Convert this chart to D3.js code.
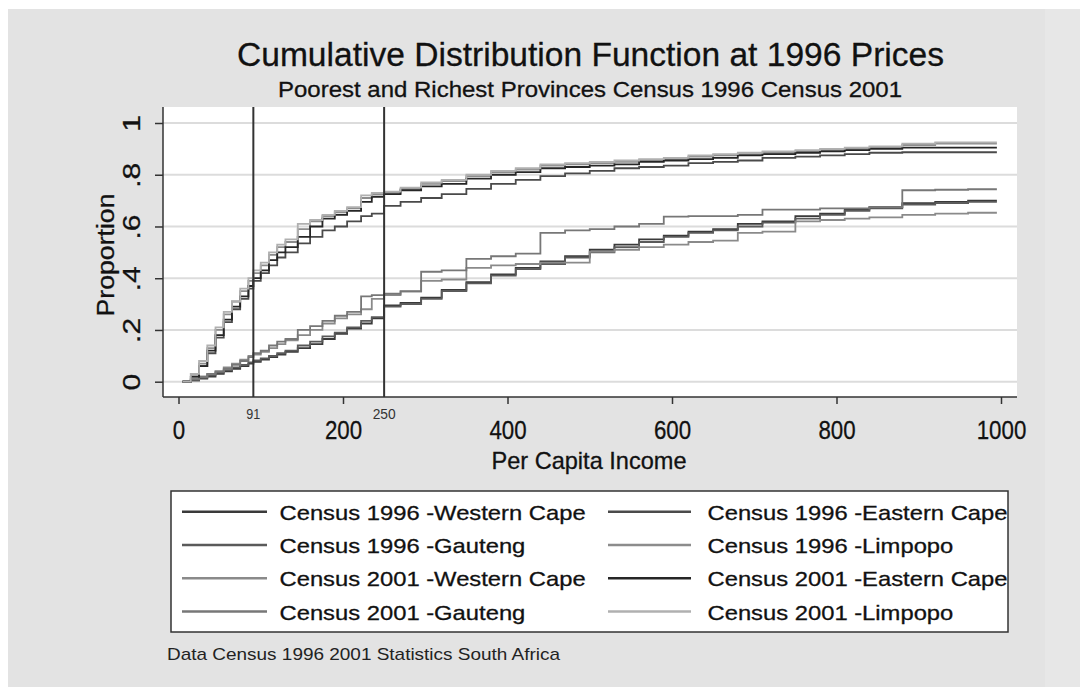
<!DOCTYPE html>
<html><head><meta charset="utf-8">
<script src="https://cdn.jsdelivr.net/npm/d3@7"></script>
<style>body{margin:0;background:#fff}svg{display:block}text{font-family:"Liberation Sans",Arial,sans-serif;fill:#111;stroke:#111;stroke-width:0.3px}</style>
</head><body>
<script>
const xTicks = [0, 200, 400, 600, 800, 1000];
const yTicks = [0, 0.2, 0.4, 0.6, 0.8, 1];
const refLines = [91, 250];
const incomes = [5,15,25,35,45,55,65,75,85,91,100,110,120,130,145,160,175,190,205,222,235,250,270,295,320,350,380,410,440,470,500,530,560,590,620,650,680,710,750,780,810,840,880,920,960,995];

const wc1996 = [0,0.005,0.012,0.02,0.03,0.04,0.05,0.06,0.07,0.077,0.085,0.095,0.105,0.115,0.13,0.145,0.165,0.185,0.205,0.225,0.245,0.295,0.305,0.325,0.355,0.385,0.415,0.44,0.465,0.485,0.51,0.53,0.55,0.565,0.58,0.59,0.61,0.62,0.64,0.65,0.665,0.675,0.69,0.695,0.70,0.70];
const ec1996 = [0,0.02,0.06,0.11,0.17,0.23,0.28,0.32,0.36,0.39,0.42,0.45,0.48,0.50,0.535,0.56,0.585,0.60,0.62,0.64,0.65,0.68,0.695,0.71,0.725,0.745,0.765,0.78,0.795,0.805,0.815,0.825,0.83,0.835,0.845,0.85,0.855,0.865,0.87,0.875,0.88,0.885,0.887,0.887,0.887,0.887];
const gt1996 = [0,0.005,0.015,0.025,0.035,0.045,0.055,0.065,0.075,0.082,0.09,0.10,0.11,0.12,0.14,0.155,0.175,0.19,0.21,0.235,0.25,0.29,0.30,0.32,0.35,0.38,0.41,0.435,0.455,0.48,0.50,0.52,0.54,0.56,0.575,0.585,0.60,0.615,0.63,0.645,0.66,0.67,0.685,0.69,0.695,0.695];
const lp1996 = [0,0.03,0.07,0.13,0.20,0.26,0.31,0.35,0.39,0.42,0.45,0.49,0.52,0.54,0.59,0.62,0.64,0.655,0.67,0.71,0.725,0.73,0.745,0.765,0.775,0.795,0.81,0.82,0.835,0.84,0.845,0.85,0.855,0.86,0.87,0.875,0.88,0.885,0.89,0.895,0.90,0.905,0.915,0.92,0.92,0.92];
const wc2001 = [0,0.01,0.02,0.03,0.04,0.055,0.07,0.085,0.10,0.105,0.115,0.13,0.145,0.16,0.18,0.20,0.225,0.245,0.26,0.28,0.32,0.335,0.348,0.39,0.395,0.44,0.45,0.455,0.46,0.46,0.503,0.51,0.52,0.53,0.54,0.545,0.575,0.58,0.62,0.625,0.63,0.635,0.645,0.65,0.653,0.653];
const ec2001 = [0,0.02,0.06,0.12,0.18,0.24,0.29,0.33,0.37,0.40,0.43,0.47,0.50,0.52,0.56,0.60,0.63,0.645,0.66,0.695,0.715,0.725,0.74,0.755,0.765,0.785,0.80,0.81,0.825,0.83,0.835,0.84,0.85,0.855,0.86,0.865,0.875,0.88,0.885,0.89,0.895,0.90,0.905,0.905,0.905,0.905];
const gt2001 = [0,0.01,0.02,0.03,0.04,0.05,0.065,0.08,0.095,0.11,0.12,0.14,0.155,0.165,0.20,0.215,0.235,0.255,0.27,0.33,0.335,0.34,0.35,0.425,0.43,0.475,0.485,0.495,0.575,0.585,0.59,0.60,0.61,0.638,0.64,0.64,0.645,0.665,0.665,0.67,0.67,0.675,0.74,0.742,0.744,0.744];
const lp2001 = [0,0.03,0.08,0.14,0.21,0.27,0.31,0.36,0.40,0.43,0.46,0.50,0.53,0.55,0.61,0.625,0.645,0.66,0.675,0.72,0.73,0.735,0.75,0.77,0.78,0.80,0.815,0.825,0.84,0.845,0.85,0.855,0.86,0.865,0.875,0.88,0.885,0.89,0.895,0.90,0.905,0.91,0.92,0.925,0.925,0.925];

const seriesNames = ["Census 1996 -Western Cape","Census 1996 -Eastern Cape","Census 1996 -Gauteng","Census 1996 -Limpopo","Census 2001 -Western Cape","Census 2001 -Eastern Cape","Census 2001 -Gauteng","Census 2001 -Limpopo"];
const seriesValues = [wc1996, ec1996, gt1996, lp1996, wc2001, ec2001, gt2001, lp2001];
const seriesColors = ["#3a3a3a","#4a4a4a","#5a5a5a","#8c8c8c","#8a8a8a","#262626","#777777","#b0b0b0"];
// legend order: column 1 then column 2
const legendOrder = [[0,2,4,6],[1,3,5,7]];

const W = 1080, H = 687;
const svg = d3.select("body").append("svg").attr("width", W).attr("height", H);

// background
svg.append("rect").attr("width", W).attr("height", H).attr("fill", "#fff");
svg.append("rect").attr("x", 8).attr("y", 9).attr("width", W - 8).attr("height", H - 9).attr("fill", "#e3e3e3");
svg.append("rect").attr("x", 1045).attr("y", 9).attr("width", W - 1045).attr("height", H - 9).attr("fill", "#e7e7e7");

const plot = {l: 163, r: 1017, t: 107, b: 397};
const x = d3.scaleLinear().domain([0, 1000]).range([178.5, 1001]);
const y = d3.scaleLinear().domain([0, 1]).range([381.7, 123]);

svg.append("rect").attr("x", plot.l).attr("y", plot.t).attr("width", plot.r - plot.l).attr("height", plot.b - plot.t).attr("fill", "#fff");

// gridlines
svg.append("g").selectAll("line").data(yTicks).join("line")
  .attr("x1", plot.l).attr("x2", plot.r)
  .attr("y1", d => y(d)).attr("y2", d => y(d))
  .attr("stroke", "#dcdcdc").attr("stroke-width", 2);

function fit(sel, target) {
  sel.attr("textLength", target).attr("lengthAdjust", "spacingAndGlyphs");
}

// series lines
const line = d3.line().curve(d3.curveStepAfter).x(d => x(d[0])).y(d => y(d[1]));
const order = [0,2,4,6,1,3,5,7];
svg.append("g").selectAll("path").data(order).join("path")
  .attr("d", i => line(incomes.map((v, k) => [v, seriesValues[i][k]])))
  .attr("fill", "none").attr("stroke", i => seriesColors[i]).attr("stroke-width", 1.8);

// reference vertical lines
svg.append("g").selectAll("line").data(refLines).join("line")
  .attr("x1", d => x(d)).attr("x2", d => x(d))
  .attr("y1", plot.t).attr("y2", plot.b)
  .attr("stroke", "#333").attr("stroke-width", 2);
svg.append("g").selectAll("text").data(refLines).join("text")
  .attr("x", d => x(d)).attr("y", 419).attr("text-anchor", "middle")
  .attr("font-size", 14).style("fill", "#333").style("stroke", "none").text(d => d)
  .each(function(d){ d3.select(this).attr("textLength", d < 100 ? 14 : 23).attr("lengthAdjust","spacingAndGlyphs"); });

// axes
const xAxis = svg.append("g").attr("transform", `translate(0,${plot.b})`)
  .call(d3.axisBottom(x).tickValues(xTicks).tickSize(7).tickFormat(d3.format("d")));
xAxis.select(".domain").remove();
xAxis.selectAll(".tick line").attr("stroke", "#333").attr("stroke-width", 1.5);
xAxis.selectAll(".tick text").attr("y", 42).attr("dy", null).attr("font-size", 26)
  .style("font-family", '"Liberation Sans",Arial,sans-serif').style("fill", "#111")
  .each(function(d){ const n = String(d).length; d3.select(this).attr("textLength", n * 12.4).attr("lengthAdjust","spacingAndGlyphs"); });

const yAxis = svg.append("g").attr("transform", `translate(${plot.l},0)`)
  .call(d3.axisLeft(y).tickValues(yTicks).tickSize(8)
    .tickFormat(d => d === 0 ? "0" : d === 1 ? "1" : String(d).replace("0.", ".")));
yAxis.select(".domain").remove();
yAxis.selectAll(".tick line").attr("stroke", "#333").attr("stroke-width", 1.5);
yAxis.selectAll(".tick text").attr("transform", "rotate(-90)").attr("x", 0).attr("y", -23).attr("dy", null)
  .attr("text-anchor", "middle").attr("font-size", 24)
  .style("font-family", '"Liberation Sans",Arial,sans-serif').style("fill", "#111")
  .each(function(){ const L = this.getComputedTextLength(); d3.select(this).attr("textLength", L * 1.25).attr("lengthAdjust","spacingAndGlyphs"); });

svg.append("line").attr("x1", plot.l).attr("x2", plot.l).attr("y1", plot.t).attr("y2", plot.b).attr("stroke", "#333").attr("stroke-width", 1.5);
svg.append("line").attr("x1", plot.l).attr("x2", plot.r).attr("y1", plot.b).attr("y2", plot.b).attr("stroke", "#333").attr("stroke-width", 1.5);

// titles
svg.append("text").attr("x", 590.5).attr("y", 66).attr("text-anchor", "middle").attr("font-size", 34)
  .text("Cumulative Distribution Function at 1996 Prices").call(fit, 707);
svg.append("text").attr("x", 590).attr("y", 97).attr("text-anchor", "middle").attr("font-size", 22)
  .text("Poorest and Richest Provinces Census 1996 Census 2001").call(fit, 624);
svg.append("text").attr("x", 589).attr("y", 469).attr("text-anchor", "middle").attr("font-size", 24)
  .text("Per Capita Income").call(fit, 195);
svg.append("text").attr("transform", `translate(114,${(plot.t + plot.b) / 2 + 3}) rotate(-90)`).attr("text-anchor", "middle").attr("font-size", 23)
  .text("Proportion").call(fit, 123);

// legend
const leg = {x: 171, y: 491, w: 837, h: 141};
svg.append("clipPath").attr("id", "legclip").append("rect").attr("x", leg.x).attr("y", leg.y).attr("width", leg.w).attr("height", leg.h);
svg.append("rect").attr("x", leg.x).attr("y", leg.y).attr("width", leg.w).attr("height", leg.h)
  .attr("fill", "#fff").attr("stroke", "#333").attr("stroke-width", 1.5);
const lg = svg.append("g").attr("clip-path", "url(#legclip)");
const colX = [{l1: 182, l2: 267, t: 279.5}, {l1: 608, l2: 691, t: 707.5}];
const rowY = [511.7, 545, 578.3, 611.6];
const tmp = svg.append("text").attr("font-size", 21).text("Census 1996 -Eastern Cape");
const legFactor = 300 / tmp.node().getComputedTextLength();
tmp.remove();
legendOrder.forEach((col, c) => {
  col.forEach((si, r) => {
    lg.append("line").attr("x1", colX[c].l1).attr("x2", colX[c].l2).attr("y1", rowY[r]).attr("y2", rowY[r])
      .attr("stroke", seriesColors[si]).attr("stroke-width", 2.5);
    const t = lg.append("text").attr("x", colX[c].t).attr("y", rowY[r] + 8).attr("font-size", 21).text(seriesNames[si]);
    t.attr("textLength", t.node().getComputedTextLength() * legFactor).attr("lengthAdjust", "spacingAndGlyphs");
  });
});

// note
svg.append("text").attr("x", 167).attr("y", 660).attr("font-size", 17).style("fill", "#222").style("stroke", "none")
  .text("Data Census 1996 2001 Statistics South Africa").call(fit, 393);
</script>
</body></html>
